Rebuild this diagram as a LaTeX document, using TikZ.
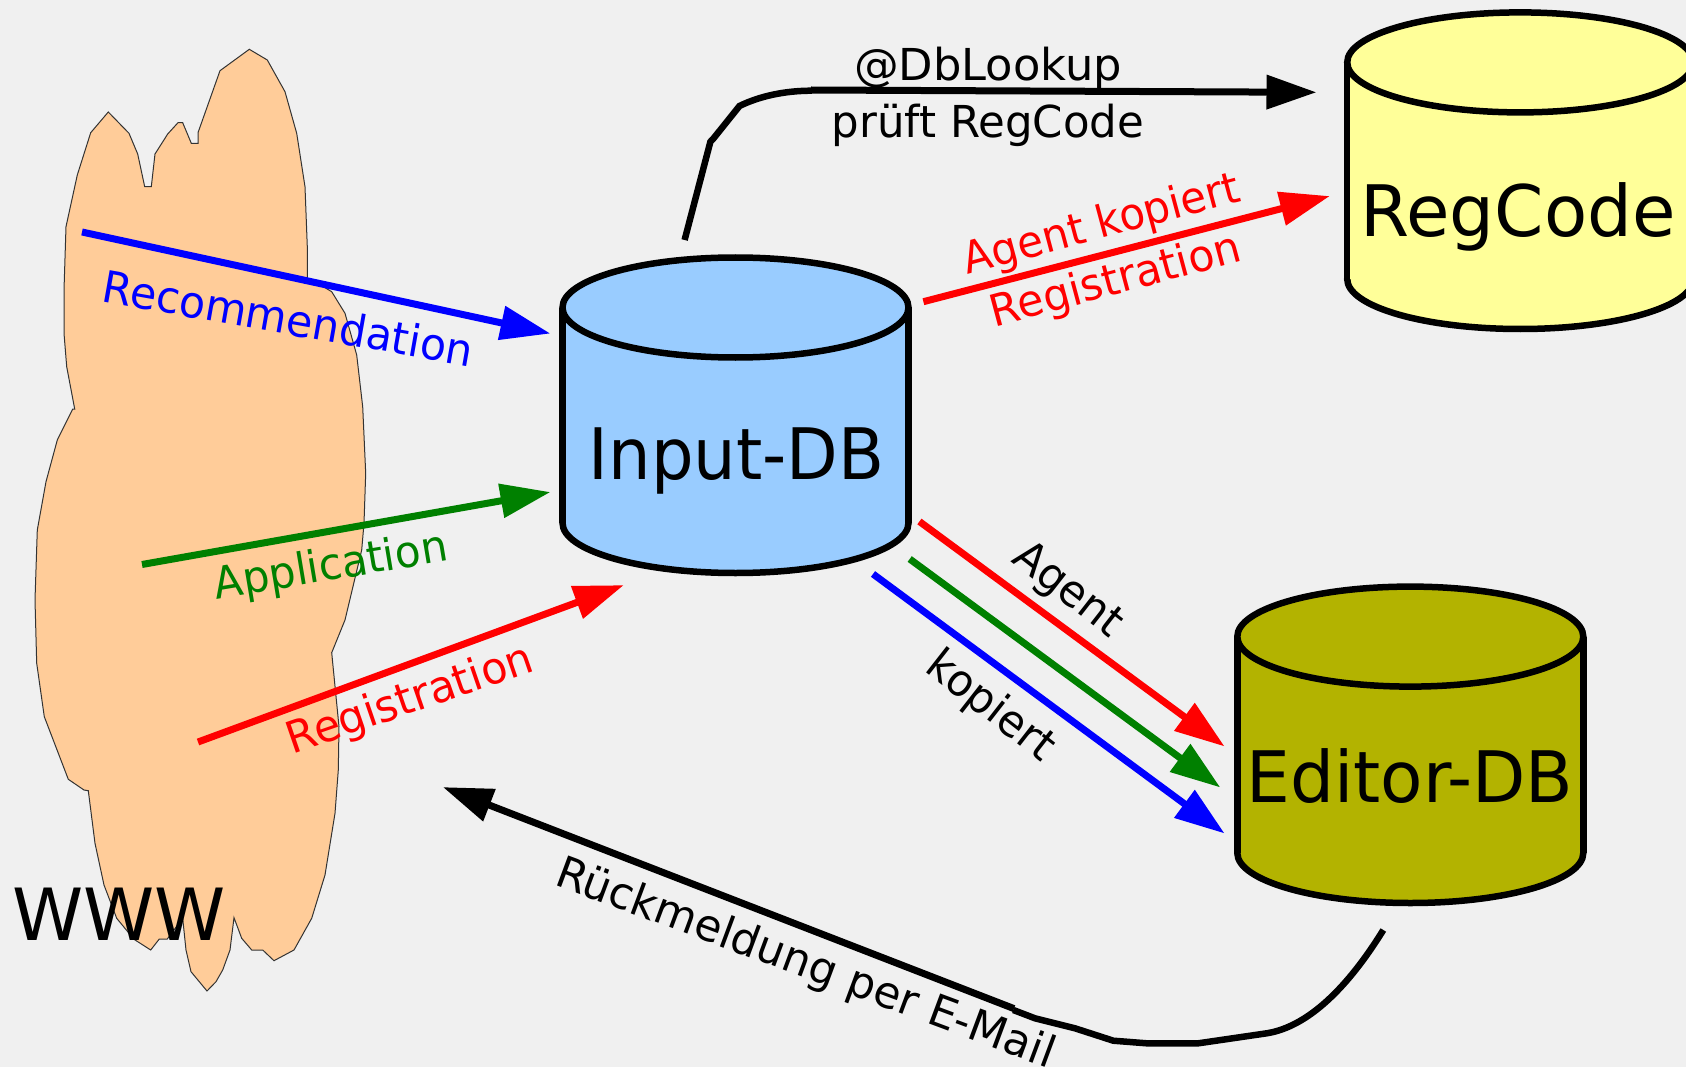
\documentclass[tikz,border=0pt]{standalone}
\usepackage{fontspec}
\usepackage{graphicx}
\setmainfont{DejaVu Sans}
\usetikzlibrary{arrows.meta}
\definecolor{pagebg}{RGB}{240,240,240}
\definecolor{blobfill}{RGB}{255,204,153}
\definecolor{inputfill}{RGB}{153,204,255}
\definecolor{regfill}{RGB}{255,255,153}
\definecolor{editorfill}{RGB}{179,179,0}
\definecolor{flowgreen}{RGB}{0,128,0}
\newcommand{\dbdrum}[5]{% centre x, top cy, bottom cy, half width, fill
  \draw[line width=6.5pt,fill=#5] (#1,#3) ellipse [x radius=#4,y radius=50];
  \fill[#5] (#1-#4,#2) rectangle (#1+#4,#3);
  \draw[line width=6.5pt] (#1-#4,#2) -- (#1-#4,#3) (#1+#4,#2) -- (#1+#4,#3);
  \draw[line width=6.5pt,fill=#5] (#1,#2) ellipse [x radius=#4,y radius=50];
}
\tikzset{
  dbtext/.style={font=\fontsize{71pt}{76pt}\selectfont,inner sep=0pt},
  lab/.style={font=\fontsize{44pt}{50pt}\selectfont,inner sep=0pt},
  flow/.style={line width=7pt,shorten >=-2.5pt,-{Triangle[length=50pt,width=33pt]}},
  plainline/.style={line width=6.5pt},
}
\begin{document}
\begin{tikzpicture}[x=1pt,y=-1pt]
\useasboundingbox (0,0) rectangle (1686,1067);
\clip (0,0) rectangle (1686,1067);
\fill[pagebg] (0,0) rectangle (1686,1067);
% WWW cloud
\draw[fill=blobfill,line width=1pt,draw=black!80] (249.3,49.3) -- (267.3,60) -- (285,91.7) -- (296.7,133.3) -- (305,186.7) -- (307.3,246.7) -- (307.3,278.3) -- (323.3,286.7) -- (331.7,291.7) -- (345,313.3) -- (356.7,355) -- (362.7,406.7) -- (365.7,473.3) -- (364,523.3) -- (361.7,550) -- (345,620) -- (331.7,652.7) -- (339,726.7) -- (338.3,770) -- (335,813.3) -- (325,875) -- (311.7,918.3) -- (294,950) -- (274,960.7) -- (262.7,950) -- (251.7,950) -- (241.7,938.3) -- (234,917.7) -- (230,950) -- (222.7,970) -- (216,981.7) -- (207,991) -- (191,971.7) -- (186,950) -- (182.7,918.3) -- (167.3,939) -- (159.3,939) -- (150.7,950) -- (134,939.3) -- (116.7,918.3) -- (104,885) -- (95,843.3) -- (88.3,790.7) -- (84,790) -- (68.3,779.3) -- (44.3,716.7) -- (36.7,663.3) -- (35,600) -- (37.3,530) -- (46,481.7) -- (57.3,440) -- (72.7,409) -- (74.7,409) -- (66.7,366.7) -- (64,333.3) -- (64,290) -- (66,226.7) -- (77.3,175) -- (90.7,132.7) -- (108.3,112) -- (129,133.3) -- (137.7,154) -- (144.7,186.7) -- (151.3,186.7) -- (155,154) -- (167.7,134) -- (178,122.7) -- (182.7,122.7) -- (191.3,143.3) -- (198,143.3) -- (198,132.7) -- (220,70.7) -- cycle;
% databases
\dbdrum{735.5}{307.5}{523}{173}{inputfill}
\dbdrum{1520.2}{62.4}{279}{173}{regfill}
\dbdrum{1410.3}{636.6}{853}{173}{editorfill}
\node[dbtext] (inputlabel) at (736.6,461) {\scalebox{.945}[1]{Input-DB}};
\node[dbtext] (reglabel) at (1518,217) {\scalebox{.995}[1]{RegCode}};
\node[dbtext] (editorlabel) at (1410,776) {\scalebox{.976}[1]{Editor-DB}};
\node[font=\fontsize{72pt}{76pt}\selectfont,inner sep=0pt] (wwwlabel) at (119,914) {WWW};
% free connector ends
\coordinate (recA) at (82,232);   \coordinate (recB) at (548,333);
\coordinate (appA) at (142,564.5);\coordinate (appB) at (548,492.5);
\coordinate (regA) at (198,742);  \coordinate (regB) at (621.5,586);
\coordinate (lookA) at (684.6,240);\coordinate (lookB) at (710.4,141.7);\coordinate (lookC) at (713.6,138.3);
\coordinate (lookD) at (739.5,106);\coordinate (lookE) at (811.8,90.7);
\coordinate (lookF) at (811,90);  \coordinate (lookG) at (1314,92.3);
\coordinate (copyA) at (923.4,301.7);\coordinate (copyB) at (1327.4,196.7);
\coordinate (edRA) at (919.4,521.5);\coordinate (edRB) at (1222.6,745);
\coordinate (edGA) at (909.7,559);\coordinate (edGB) at (1218.3,786);
\coordinate (edBA) at (873,574);  \coordinate (edBB) at (1222.6,832);
\coordinate (mailA) at (1383.3,930);\coordinate (mailB) at (1266.7,1033.3);\coordinate (mailC) at (1198.3,1043.3);
\coordinate (mailD) at (1146.7,1043.3);\coordinate (mailE) at (1113.3,1040.7);\coordinate (mailF) at (1075,1028.3);
\coordinate (mailG) at (1035,1018.3);\coordinate (mailH) at (1013.3,1010);\coordinate (mailI) at (1014,1008.6);\coordinate (mailJ) at (445.2,788);
% connectors
\draw[flow,blue] (recA) -- (recB);
\draw[flow,flowgreen] (appA) -- (appB);
\draw[flow,red] (regA) -- (regB);
\draw[plainline] (lookA) -- (lookB) -- (lookC) -- (lookD) .. controls (760,96) and (785,90.7) .. (lookE);
\draw[flow] (lookF) -- (lookG);
\draw[flow,red] (copyA) -- (copyB);
\draw[flow,red] (edRA) -- (edRB);
\draw[flow,flowgreen] (edGA) -- (edGB);
\draw[flow,blue] (edBA) -- (edBB);
\draw[plainline] (mailA) .. controls (1340,1000) and (1300,1028) .. (mailB) -- (mailC) -- (mailD) -- (mailE) -- (mailF) -- (mailG) -- (mailH);
\draw[flow] (mailI) -- (mailJ);
% labels
\node[lab,blue,rotate=-10] (lrec) at (288.5,318) {\scalebox{.97}[1]{Recommendation}};
\node[lab,flowgreen,rotate=9.5] (lapp) at (331,568) {\scalebox{.96}[1]{Application}};
\node[lab,red,rotate=19] (lreg) at (410.6,701) {\scalebox{.97}[1]{Registration}};
\node[lab] (llook) at (988,68) {\scalebox{1.017}[1]{@DbLookup}};
\node[lab] (lcheck) at (988,125) {\scalebox{.988}[1]{prüft RegCode}};
\node[lab,red,rotate=15] (lagentk) at (1102,226) {\scalebox{.955}[1]{Agent kopiert}};
\node[lab,red,rotate=15] (lreg2) at (1116,282) {\scalebox{.97}[1]{Registration}};
\node[lab,rotate=-38] (lagent) at (1067,591) {\scalebox{.97}[1]{Agent}};
\node[lab,rotate=-38] (lkop) at (990,707) {\scalebox{.97}[1]{kopiert}};
\node[lab,rotate=-20.4] (lmail) at (805,965) {\scalebox{.99}[1]{Rückmeldung per E-Mail}};
\end{tikzpicture}
\end{document}
